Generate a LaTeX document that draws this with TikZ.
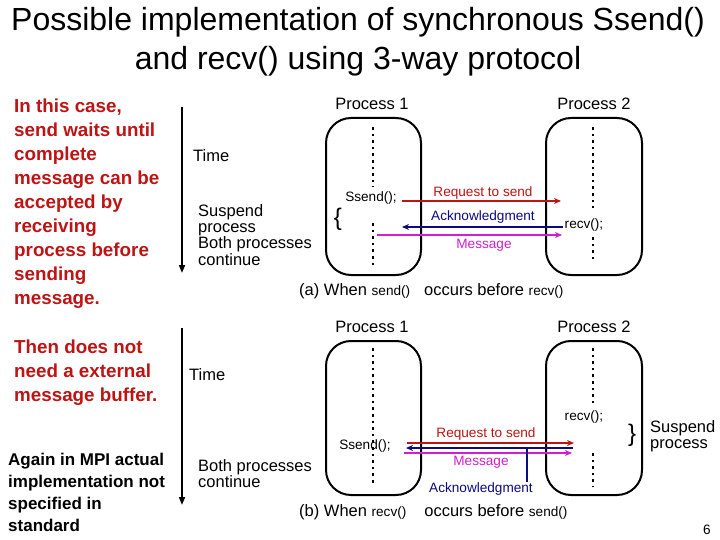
\documentclass[tikz,border=0pt]{standalone}
\usepackage{fontspec}
\setmainfont{Liberation Sans}
\usetikzlibrary{arrows.meta}
\definecolor{dred}{RGB}{190,20,20}
\definecolor{navyb}{RGB}{10,10,130}
\definecolor{mag}{RGB}{210,30,210}
\begin{document}
\begin{tikzpicture}[x=1pt,y=-1pt,
  procbox/.style={draw, line width=2pt, rounded corners=25pt, inner sep=0pt},
  dotline/.style={line width=2.6pt, dash pattern=on 2.6pt off 4pt},
  timearrow/.style={line width=1.8pt, -{Triangle[length=8pt,width=6pt]}},
  reqline/.style={dred, line width=2.6pt, -{Stealth[length=7pt,width=6pt]}},
  ackline/.style={navyb, line width=2.2pt, -{Stealth[length=7pt,width=6pt]}},
  msgline/.style={mag, line width=2.6pt, -{Stealth[length=7pt,width=6pt]}},
  plabel/.style={font=\fontsize{16.5}{17}\selectfont, inner sep=0pt},
  small/.style={font=\fontsize{13.6}{14}\selectfont, inner sep=0pt},
  side/.style={font=\fontsize{16.5}{16.4}\selectfont, align=left, inner sep=0pt, anchor=north west},
  lefttext/.style={font=\fontsize{18.8}{24}\selectfont\bfseries, align=left, inner sep=0pt, anchor=north west, text=dred},
  notetext/.style={font=\fontsize{17}{22}\selectfont\bfseries, align=left, inner sep=0pt, anchor=north west},
  brace/.style={font=\fontsize{24}{24}\selectfont, inner sep=0pt}
]
\useasboundingbox[fill=white] (0,0) rectangle (720,540);

% title
\node[font=\fontsize{32}{34}\selectfont, inner sep=0pt] (t1) at (358,22) {Possible implementation of synchronous Ssend()};
\node[font=\fontsize{32}{34}\selectfont, inner sep=0pt] (t2) at (358,61) {and recv() using 3-way protocol};

% left column
\node[lefttext] (l1) at (14,99) {In this case,\\send waits until\\complete\\message can be\\accepted by\\receiving\\process before\\sending\\message.};
\node[lefttext] (l2) at (14,340) {Then does not\\need a external\\message buffer.};
\node[notetext] (l3) at (8,453) {Again in MPI actual\\implementation not\\specified in\\standard};

% ===== top diagram =====
\node[plabel] (pa1) at (372,104) {Process 1};
\node[plabel] (pa2) at (594,104) {Process 2};
\node[procbox, minimum width=95pt, minimum height=157pt] (ba1) at (373.5,196.5) {};
\node[procbox, minimum width=96pt, minimum height=157pt] (ba2) at (594,196.5) {};
\draw[dotline] (373,127) -- (373,187);
\draw[dotline] (373,223) -- (373,265);
\draw[dotline] (593,127) -- (593,208);
\draw[dotline] (593,237) -- (593,263);

\coordinate (ta0) at (182,107);
\coordinate (ta1) at (182,273);
\draw[timearrow] (ta0) -- (ta1);
\node[plabel, anchor=west] (timea) at (193,156) {Time};
\node[side] (susa) at (198,204) {Suspend\\process\\Both processes\\continue};
\node[brace] (bra) at (338,219) {\{};

\node[small] (ssa) at (371,198) {Ssend();};
\node[small] (rva) at (584,225) {recv();};
\coordinate (ra0) at (402,201); \coordinate (ra1) at (561,201);
\coordinate (aa0) at (563,227); \coordinate (aa1) at (402,227);
\coordinate (ma0) at (377,235); \coordinate (ma1) at (562,235);
\draw[reqline] (ra0) -- (ra1);
\draw[ackline] (aa0) -- (aa1);
\draw[msgline] (ma0) -- (ma1);
\node[small, text=dred] (rqa) at (483,193) {Request to send};
\node[small, text=navyb] (aka) at (483,217) {Acknowledgment};
\node[small, text=mag] (msa) at (484,245) {Message};

\node[plabel, anchor=base west] (capa) at (299,295) {(a) When {\fontsize{13.6}{14}\selectfont send()}\hspace{14pt}occurs before {\fontsize{13.6}{14}\selectfont recv()}};

% ===== bottom diagram =====
\node[plabel] (pb1) at (372,327) {Process 1};
\node[plabel] (pb2) at (594,327) {Process 2};
\node[procbox, minimum width=95pt, minimum height=154pt] (bb1) at (373.5,418) {};
\node[procbox, minimum width=96pt, minimum height=154pt] (bb2) at (594,418) {};
\draw[dotline] (373,348) -- (373,486);
\draw[dotline] (593,348) -- (593,407);
\draw[dotline] (593,453) -- (593,487);

\coordinate (tb0) at (182,328);
\coordinate (tb1) at (182,505);
\draw[timearrow] (tb0) -- (tb1);
\node[plabel, anchor=west] (timeb) at (189,375) {Time};
\node[side] (bothb) at (198,459) {Both processes\\continue};
\node[brace] (brb) at (632,435) {\}};
\node[side] (susb) at (650,420) {Suspend\\process};

\node[small] (ssb) at (365,446) {Ssend();};
\node[small] (rvb) at (584,417) {recv();};
\coordinate (rb0) at (407,443); \coordinate (rb1) at (574,443);
\coordinate (ab0) at (573,448); \coordinate (ab1) at (406,448);
\coordinate (mb0) at (404,453); \coordinate (mb1) at (572,453);
\draw[reqline] (rb0) -- (rb1);
\draw[ackline] (ab0) -- (ab1);
\draw[msgline] (mb0) -- (mb1);
\node[small, text=dred] (rqb) at (486,434) {Request to send};
\node[small, text=mag] (msb) at (481,462) {Message};
\node[small, text=navyb] (akb) at (481,489) {Acknowledgment};
\coordinate (akt) at (527,448);
\draw[navyb, line width=2pt] (akt) -- (akb.north -| akt);

\node[plabel, anchor=base west] (capb) at (299,516) {(b) When {\fontsize{13.6}{14}\selectfont recv()}\hspace{18pt}occurs before {\fontsize{13.6}{14}\selectfont send()}};

\node[small] (pg) at (707,530) {6};
\end{tikzpicture}
\end{document}
